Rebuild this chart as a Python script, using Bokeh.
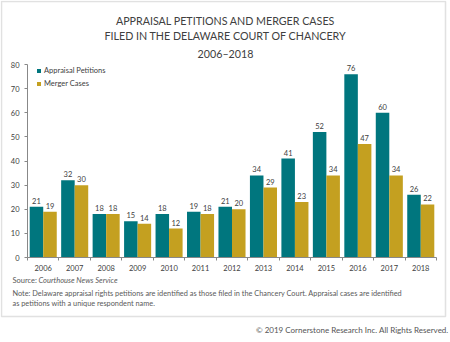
from bokeh.plotting import figure
from bokeh.models import (Range1d, FixedTicker, ColumnDataSource, Label,
                          BoxAnnotation, LabelSet, Legend, LegendItem)
from bokeh.core.properties import value
from bokeh.transform import dodge
from bokeh.embed import file_html
from bokeh.resources import INLINE

years = [str(y) for y in range(2006, 2019)]
appraisal = [21, 32, 18, 15, 18, 19, 21, 34, 41, 52, 76, 60, 26]
merger = [19, 30, 18, 14, 12, 18, 20, 29, 23, 34, 47, 34, 22]
y_ticks = [0, 10, 20, 30, 40, 50, 60, 70, 80]

title_lines = ["APPRAISAL PETITIONS AND MERGER CASES",
               "FILED IN THE DELAWARE COURT OF CHANCERY",
               "2006\u20132018"]
source_text = "Source: "
source_italic = "Courthouse News Service"
note_lines = ["Note: Delaware appraisal rights petitions are identified as those filed in the Chancery Court. Appraisal cases are identified",
              "as petitions with a unique respondent name."]
copyright_text = "\u00a9 2019 Cornerstone Research Inc. All Rights Reserved."

TEAL = "#00767E"
GOLD = "#C4A020"
TXT = "#404040"
FONT = "Lato"

# layout geometry (canvas pixels from top-left)
CW, CH = 450, 342
PL, PR, PT, PB = 27, 436, 64, 257   # plotting region of the bars
NCAT = len(years)
YMAX = 80

xpx = (PR - PL) / NCAT
ypx = (PB - PT) / YMAX
x_start = -PL / xpx
x_end = NCAT + (CW - PR) / xpx
y_start = -(CH - PB) / ypx
y_end = YMAX + PT / ypx


def sx(X):
    return X


def sy(Y):
    return CH - Y


centers = [i + 0.5 for i in range(NCAT)]
src = ColumnDataSource(dict(x=centers, year=years, a=appraisal, m=merger,
                            al=[str(v) for v in appraisal], ml=[str(v) for v in merger]))

p = figure(width=CW, height=CH, output_backend="svg", toolbar_location=None,
           x_range=Range1d(x_start, x_end), y_range=Range1d(y_start, y_end),
           min_border=0, min_border_left=0, min_border_right=0,
           min_border_top=0, min_border_bottom=0)
p.outline_line_color = None
p.xgrid.visible = False
p.ygrid.visible = False
p.background_fill_color = "white"
p.border_fill_color = "white"

W = 0.43
ra = p.vbar(x=dodge('x', -W / 2, range=p.x_range), top='a', width=W, source=src,
            fill_color=TEAL, line_color=None)
rm = p.vbar(x=dodge('x', W / 2, range=p.x_range), top='m', width=W, source=src,
            fill_color=GOLD, line_color=None)

for col, ycol, off in (('al', 'a', -W / 2), ('ml', 'm', W / 2)):
    p.add_layout(LabelSet(x=dodge('x', off, range=p.x_range), y=ycol, text=col, source=src,
                          y_offset=3, text_align="center", text_baseline="bottom",
                          text_font=value(FONT), text_font_size=value("7.5px"),
                          text_color=TXT))

# x axis
xa = p.xaxis[0]
xa.fixed_location = 0
xa.bounds = (0, NCAT)
xa.ticker = FixedTicker(ticks=centers, minor_ticks=list(range(NCAT + 1)))
xa.major_label_overrides = {c: y for c, y in zip(centers, years)}
xa.major_tick_line_color = None
xa.major_tick_out = 0
xa.major_tick_in = 0
xa.minor_tick_line_color = "#888888"
xa.minor_tick_out = 3
xa.minor_tick_in = 0
xa.axis_line_color = "#888888"
xa.major_label_text_font = FONT
xa.major_label_text_font_size = "7.5px"
xa.major_label_text_color = TXT
xa.major_label_standoff = 4

ya = p.yaxis[0]
ya.fixed_location = 0
ya.bounds = (0, YMAX)
ya.ticker = FixedTicker(ticks=y_ticks)
ya.axis_line_color = "#888888"
ya.major_tick_line_color = "#888888"
ya.major_tick_out = 3
ya.major_tick_in = 0
ya.minor_tick_line_color = None
ya.major_label_text_font = FONT
ya.major_label_text_font_size = "7.5px"
ya.major_label_text_color = TXT
ya.major_label_standoff = 5

legend = Legend(items=[LegendItem(label="Appraisal Petitions", renderers=[ra]),
                       LegendItem(label="Merger Cases", renderers=[rm])],
                location=(36, sy(88)), orientation="vertical")
legend.border_line_color = None
legend.background_fill_alpha = 0
legend.padding = 0
legend.margin = 0
legend.spacing = 4
legend.glyph_width = 5
legend.glyph_height = 5
legend.label_height = 9
legend.label_standoff = 3
legend.label_text_font = FONT
legend.label_text_font_size = "7.5px"
legend.label_text_color = TXT
p.add_layout(legend)

for txt, Y in zip(title_lines, [20, 35, 52.5]):
    p.add_layout(Label(x=sx(225), y=sy(Y), x_units="screen", y_units="screen", text=txt,
                       text_align="center", text_baseline="middle", text_font=FONT,
                       text_font_size="10.7px", text_color=TXT))

p.add_layout(Label(x=sx(12), y=sy(280), x_units="screen", y_units="screen", text=source_text,
                   text_baseline="middle", text_font=FONT, text_font_size="7.5px", text_color="#5a5a5a"))
p.add_layout(Label(x=sx(38), y=sy(280), x_units="screen", y_units="screen", text=source_italic,
                   text_baseline="middle", text_font=FONT, text_font_size="7.5px",
                   text_font_style="italic", text_color="#5a5a5a"))
for txt, Y in zip(note_lines, [293, 303]):
    p.add_layout(Label(x=sx(12), y=sy(Y), x_units="screen", y_units="screen", text=txt,
                       text_baseline="middle", text_font=FONT, text_font_size="7.35px", text_color="#5a5a5a"))
p.add_layout(Label(x=sx(448), y=sy(329), x_units="screen", y_units="screen", text=copyright_text,
                   text_align="right", text_baseline="middle", text_font=FONT,
                   text_font_size="8px", text_color="#555555"))

p.add_layout(BoxAnnotation(left=sx(1), right=sx(445), top=sy(1), bottom=sy(316), left_units="screen",
                           right_units="screen", bottom_units="screen", top_units="screen",
                           fill_alpha=0, line_color="#9a9a9a", line_width=1.5, level="underlay"))

open("out.html", "w").write(file_html(p, INLINE))
